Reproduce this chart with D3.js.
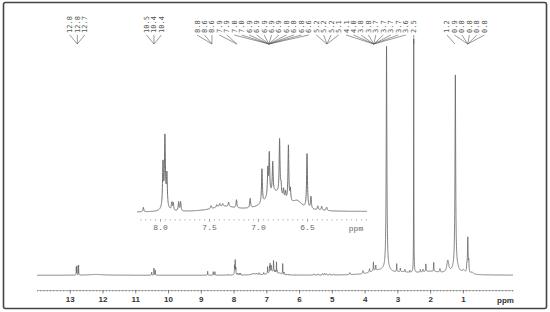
<!DOCTYPE html>
<html>
<head>
<meta charset="utf-8">
<script src="https://cdn.jsdelivr.net/npm/d3@7/dist/d3.min.js"></script>
<style>
  body { margin: 0; background: #fff; }
  svg { display: block; }
</style>
</head>
<body>
<div id="nmr"></div>
<script>
// 1H NMR spectrum
// peaks: [shift ppm, height (arbitrary units), half width ppm]
const peaks = [
  [12.80, 8, 0.004], [12.78, 9, 0.004], [12.73, 10, 0.004], [12.2, 0.8, 0.3],
  [10.50, 3, 0.005], [10.43, 7, 0.005], [10.39, 5, 0.005],
  [8.79, 4, 0.005], [8.62, 3.5, 0.005], [8.57, 3.5, 0.005],
  [8.17, 0.9, 0.005],
  [7.97, 8.3, 0.005], [7.95, 12.2, 0.005], [7.93, 6.0, 0.005], [7.95, 2.5, 0.02],
  [7.88, 1.5, 0.005], [7.865, 1.5, 0.005], [7.81, 1.8, 0.005], [7.79, 1.8, 0.005],
  [7.48, 0.6, 0.006], [7.42, 0.5, 0.006], [7.39, 0.6, 0.006], [7.36, 0.5, 0.006],
  [7.30, 0.9, 0.005], [7.22, 1.6, 0.005], [7.08, 1.85, 0.005],
  [6.96, 6.8, 0.005], [6.90, 5.4, 0.005], [6.885, 8.2, 0.005], [6.85, 6.0, 0.005],
  [6.78, 11.0, 0.005], [6.765, 2.0, 0.005], [6.74, 1.8, 0.005], [6.72, 1.6, 0.005],
  [6.69, 11.2, 0.005], [6.67, 2.4, 0.005],
  [6.50, 10.8, 0.005], [6.46, 2.4, 0.005],
  [6.39, 0.8, 0.006], [6.35, 0.8, 0.006], [6.30, 0.7, 0.006],
  [5.55, 1.2, 0.01], [5.42, 1.2, 0.01], [5.28, 1.5, 0.01], [5.22, 1.5, 0.01],
  [5.17, 1.3, 0.01], [5.07, 1.2, 0.01], [4.95, 1.0, 0.01],
  [4.45, 2, 0.01], [4.05, 3, 0.01], [3.85, 3.5, 0.01], [3.73, 9, 0.008], [3.66, 5, 0.008],
  [3.33, 222, 0.012],
  [3.02, 8, 0.006], [2.91, 3.5, 0.006], [2.77, 2.5, 0.006], [2.62, 2, 0.006],
  [2.50, 233.5, 0.004],
  [2.30, 2.5, 0.008], [2.22, 2.5, 0.008], [2.13, 7.5, 0.006], [1.89, 9, 0.006], [1.70, 3.5, 0.01],
  [1.46, 12, 0.035],
  [1.23, 191, 0.012],
  [0.98, 3, 0.05], [0.88, 6, 0.008], [0.85, 35.5, 0.012], [0.82, 10, 0.008], [0.72, 2, 0.04]
];

// broad humps under the sharp lines: [shift ppm, height, half width ppm]
const humps = [
  [7.35, 1.0, 0.15], [6.83, 3.8, 0.11], [6.60, 1.5, 0.06],
  [3.60, 4, 0.3], [3.33, 4, 0.12], [2.85, 2, 0.25], [2.0, 3.5, 0.45], [1.22, 8, 0.1]
];

const mainTicks = [13, 12, 11, 10, 9, 8, 7, 6, 5, 4, 3, 2, 1];
const insetTicks = [8.0, 7.5, 7.0, 6.5];

// picked-peak labels, one group per fan
const groupPpm = [12.77, 10.43, 8.66, 7.90, 6.92, 5.15, 3.72, 2.50, 1.24, 0.85];
const groupLabels = [
  ["12.8", "12.8", "12.7"],
  ["10.5", "10.4", "10.4"],
  ["8.8", "8.6", "8.6"],
  ["7.9", "7.9"],
  ["7.0", "7.0", "6.9", "6.9", "6.9", "6.9", "6.9", "6.8", "6.8", "6.8", "6.6"],
  ["5.2", "5.2", "5.2", "5.1"],
  ["4.1", "4.0", "3.8", "3.8", "3.7", "3.7", "3.7", "3.7", "3.6"],
  ["2.5"],
  ["1.2"],
  ["0.9", "0.8", "0.8", "0.8", "0.8"]
];

const width = 550, height = 312;

let svg = d3.select("#nmr").append("svg")
    .attr("width", width)
    .attr("height", height);

// frame
svg.append("rect")
    .attr("x", 3.5).attr("y", 2.5)
    .attr("width", 543).attr("height", 306)
    .attr("rx", 2)
    .attr("fill", "#fff")
    .attr("stroke", "#444")
    .attr("stroke-width", 1.6);

var x = d3.scaleLinear().domain([14.0, -0.53]).range([37, 513]);
var y = d3.scaleLinear().domain([0, 245]).range([275.3, 30.3]);
var xi = d3.scaleLinear().domain([8.235, 5.888]).range([137, 367]);
var yi = d3.scaleLinear().domain([0, 16]).range([212.5, 132.5]);

function intensity(p) {
  let s = 0;
  peaks.concat(humps).forEach(function(pk) {
    const d = p - pk[0];
    s += pk[1] * pk[2] * pk[2] / (d * d + pk[2] * pk[2]);
  });
  return s;
}

// sample a ppm window, always including the exact peak tops
function sample(hi, lo, step) {
  let pts = d3.range(lo, hi, step);
  peaks.forEach(function(pk) { if (pk[0] > lo && pk[0] < hi) pts.push(pk[0]); });
  pts.sort((a, b) => b - a);
  return pts.map(p => [p, intensity(p)]);
}

// main spectrum
var mainData = sample(14.0, -0.53, 0.003);
svg.append("path")
    .datum(mainData)
    .attr("fill", "none")
    .attr("stroke", "#666")
    .attr("stroke-width", 0.8)
    .attr("stroke-linejoin", "round")
    .attr("d", d3.line().x(d => x(d[0])).y(d => y(d[1])));

// main axis
var minor = d3.range(-5, 141).map(v => v / 10);
var axisG = svg.append("g").attr("transform", "translate(0,290)");
axisG.call(d3.axisBottom(x).tickValues(minor).tickSize(1.5).tickSizeOuter(0).tickFormat(""));
axisG.select(".domain").attr("stroke", "#888").attr("stroke-width", 0.6);
axisG.selectAll(".tick line").attr("stroke", "#666").attr("stroke-width", 0.6);

var majorG = svg.append("g").attr("transform", "translate(0,290)");
majorG.call(d3.axisBottom(x).tickValues(mainTicks).tickSize(3.5).tickPadding(3).tickSizeOuter(0));
majorG.select(".domain").remove();
majorG.selectAll(".tick line").attr("stroke", "#555").attr("stroke-width", 0.7);
majorG.selectAll(".tick text")
    .attr("fill", "#333")
    .style("font", "bold 8px 'Liberation Sans', Arial, sans-serif");

svg.append("text")
    .attr("x", x(-0.3)).attr("y", 302.5)
    .attr("text-anchor", "middle")
    .attr("fill", "#333")
    .style("font", "bold 8px 'Liberation Sans', Arial, sans-serif")
    .text("ppm");

// inset: aromatic region, magnified
var insetData = sample(8.235, 5.888, 0.001);
svg.append("path")
    .datum(insetData)
    .attr("fill", "none")
    .attr("stroke", "#707070")
    .attr("stroke-width", 1)
    .attr("stroke-linejoin", "round")
    .attr("d", d3.line().x(d => xi(d[0])).y(d => yi(d[1])));

var insetMinor = d3.range(118, 165).map(v => v / 20);
var insetG = svg.append("g").attr("transform", "translate(0,219)");
insetG.call(d3.axisBottom(xi).tickValues(insetMinor).tickSize(1.5).tickSizeOuter(0).tickFormat(""));
insetG.select(".domain").remove();
insetG.selectAll(".tick line").attr("stroke", "#888").attr("stroke-width", 0.6);

var insetMajor = svg.append("g").attr("transform", "translate(0,219)");
insetMajor.call(d3.axisBottom(xi).tickValues(insetTicks).tickSize(3).tickPadding(2.5).tickFormat(d3.format(".1f")));
insetMajor.select(".domain").remove();
insetMajor.selectAll(".tick line").attr("stroke", "#888").attr("stroke-width", 0.6);
insetMajor.selectAll(".tick text")
    .attr("fill", "#666")
    .style("font", "8px 'Liberation Mono', 'DejaVu Sans Mono', monospace");

svg.append("text")
    .attr("x", xi(6.0)).attr("y", 230.5)
    .attr("text-anchor", "middle")
    .attr("fill", "#666")
    .style("font", "8px 'Liberation Mono', 'DejaVu Sans Mono', monospace")
    .text("ppm");

// lay out the peak labels: groups centred on their peak, overlapping groups merged
const gap = 7.45;
let blocks = groupPpm.map((p, i) => ({ n: groupLabels[i].length, c: x(p), ids: [i] }));
let merged = true;
while (merged) {
  merged = false;
  for (let i = 0; i < blocks.length - 1; i++) {
    const a = blocks[i], b = blocks[i + 1];
    if (a.c + (a.n - 1) / 2 * gap + gap > b.c - (b.n - 1) / 2 * gap) {
      blocks.splice(i, 2, { n: a.n + b.n, c: (a.c * a.n + b.c * b.n) / (a.n + b.n), ids: a.ids.concat(b.ids) });
      merged = true;
      break;
    }
  }
}

let labelData = [];
blocks.forEach(function(bl) {
  let lx = bl.c - (bl.n - 1) / 2 * gap;
  bl.ids.forEach(function(g) {
    groupLabels[g].forEach(function(t) {
      labelData.push({ text: t, lx: lx, gx: x(groupPpm[g]) });
      lx += gap;
    });
  });
});

var labels = svg.append("g").attr("class", "peak-labels");

labels.selectAll("line")
    .data(labelData)
    .enter().append("line")
    .attr("x1", d => d.lx).attr("y1", 35)
    .attr("x2", d => d.gx).attr("y2", 44)
    .attr("stroke", "#555")
    .attr("stroke-width", 0.6);

labels.selectAll("text")
    .data(labelData)
    .enter().append("text")
    .attr("transform", d => "translate(" + d.lx + ",33) rotate(-90)")
    .attr("dy", "0.35em")
    .attr("fill", "#555")
    .style("font", "7px 'DejaVu Sans Mono', 'Liberation Mono', monospace")
    .text(d => d.text);
</script>
</body>
</html>
